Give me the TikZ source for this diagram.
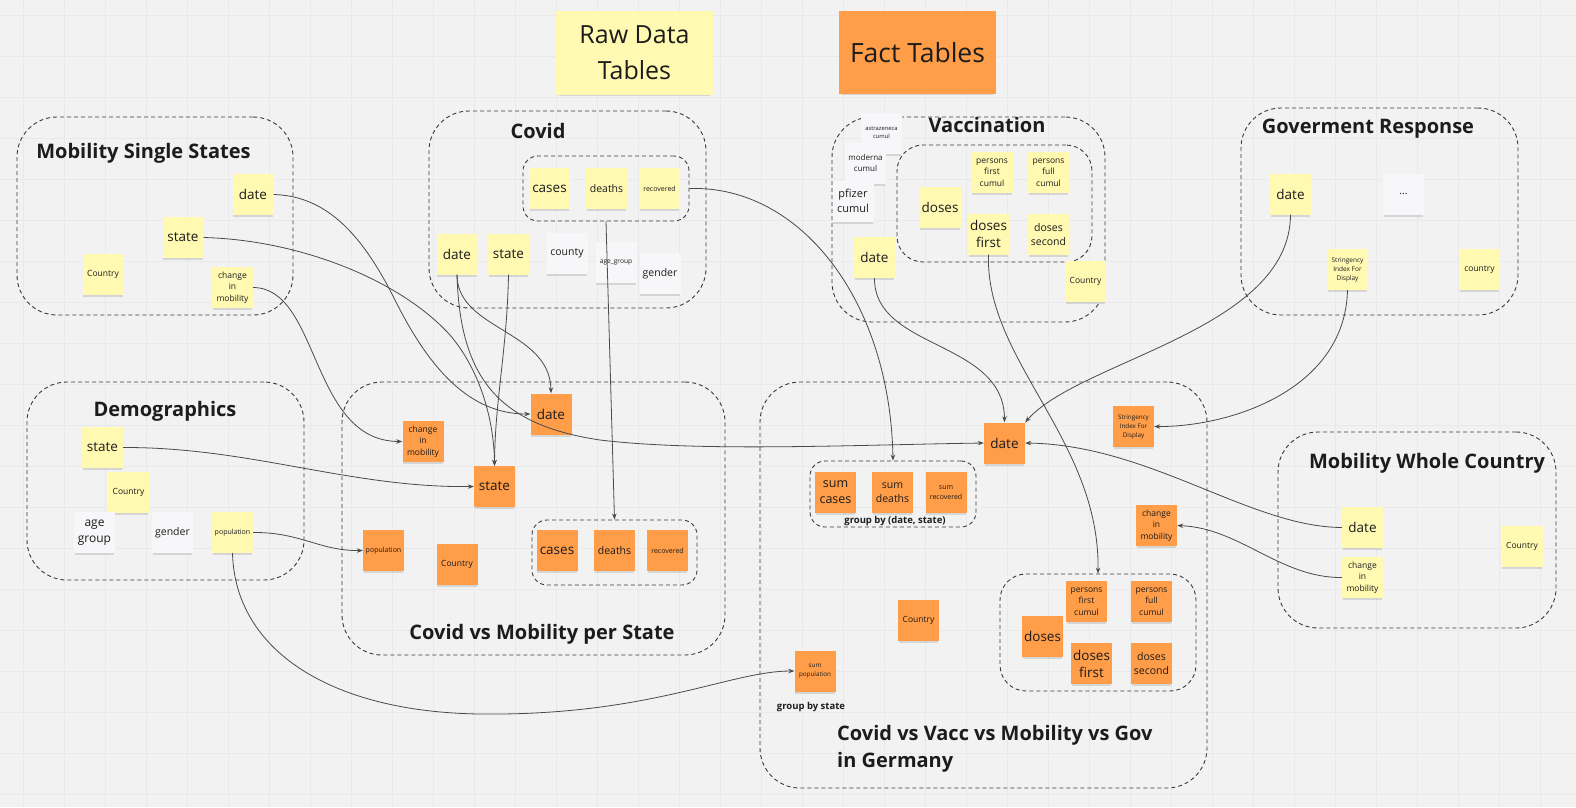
\documentclass[tikz,border=0pt]{standalone}
\usepackage{fontspec}
\setmainfont{Open Sans}
\usetikzlibrary{shadows,arrows.meta}
\definecolor{bgc}{HTML}{F2F2F2}
\definecolor{gridc}{HTML}{E9E9E9}
\definecolor{ylw}{HTML}{FFF9B1}
\definecolor{org}{HTML}{FF9D48}
\definecolor{wht}{HTML}{F7F7F9}
\definecolor{ink}{HTML}{1C1C1C}
\definecolor{linec}{HTML}{4A4A4A}
\definecolor{dashc}{HTML}{3A3A3A}
\tikzset{
  sticky/.style={rectangle, minimum width=41pt, minimum height=41pt, inner sep=1pt, align=center, text=ink,
    drop shadow={shadow xshift=0pt, shadow yshift=-3pt, opacity=0.25, shadow scale=0.96}},
  ys/.style={sticky, fill=ylw},
  os/.style={sticky, fill=org},
  ws/.style={sticky, fill=wht},
  fA/.style={font=\fontsize{13.5}{17}\selectfont},
  fB/.style={font=\fontsize{10.5}{14}\selectfont},
  fC/.style={font=\fontsize{8.5}{11.5}\selectfont},
  fD/.style={font=\fontsize{7}{9.5}\selectfont},
  fE/.style={font=\fontsize{6.3}{9}\selectfont},
  cont/.style={rectangle, draw=dashc, dash pattern=on 4pt off 3pt, line width=0.9pt, rounded corners=40pt, inner sep=0pt},
  grp/.style={rectangle, draw=dashc, dash pattern=on 4pt off 3pt, line width=0.9pt, rounded corners=15pt, inner sep=0pt},
  ttl/.style={font=\fontsize{20}{27.5}\selectfont\bfseries, text=ink, inner sep=0pt},
  lbl/.style={font=\fontsize{9.5}{12}\selectfont\bfseries, text=ink, inner sep=0pt},
  conn/.style={draw=linec, line width=0.8pt, -{Stealth[length=6pt,width=4.5pt]}},
}
\begin{document}
\begin{tikzpicture}[x=1pt,y=-1pt]
\fill[bgc] (0,0) rectangle (1576,807);
\useasboundingbox (0,0) rectangle (1576,807);
\foreach \gx in {23,64,...,1576} \draw[gridc, line width=0.6pt] (\gx,0) -- (\gx,807);
\foreach \gy in {15,56,...,807} \draw[gridc, line width=0.6pt] (0,\gy) -- (1576,\gy);

% headers
\node[ys, minimum width=157pt, minimum height=84pt, font=\fontsize{25}{36}\selectfont] (hRaw) at (634.5,53) {Raw Data\\Tables};
\node[os, minimum width=157pt, minimum height=83pt, font=\fontsize{26.5}{34}\selectfont] (hFact) at (917.5,52.5) {Fact Tables};

% containers
\node[cont, minimum width=276pt, minimum height=198pt] (cMSS) at (155,216) {};
\node[cont, minimum width=277pt, minimum height=197pt] (cCovid) at (567.5,209.5) {};
\node[cont, minimum width=273pt, minimum height=205pt] (cVacc) at (968.5,219.5) {};
\node[cont, minimum width=277pt, minimum height=207pt] (cGov) at (1379.5,211.5) {};
\node[cont, minimum width=277pt, minimum height=198pt] (cDemo) at (165.5,481) {};
\node[cont, minimum width=383pt, minimum height=273pt] (cCvM) at (533.5,518.5) {};
\node[cont, minimum width=447pt, minimum height=406pt] (cFact) at (983.5,585) {};
\node[cont, minimum width=278pt, minimum height=196pt] (cMWC) at (1417,530) {};

\node[grp, minimum width=166pt, minimum height=65pt] (gCovid) at (606,188.5) {};
\node[grp, minimum width=195pt, minimum height=117pt, rounded corners=26pt] (gVacc) at (994.5,203.5) {};
\node[grp, minimum width=165pt, minimum height=65pt] (gCvM) at (614.5,552.5) {};
\node[grp, minimum width=166pt, minimum height=66pt] (gSum) at (893,494) {};
\node[grp, minimum width=196pt, minimum height=117pt, rounded corners=26pt] (gFVacc) at (1098,632.5) {};

% titles
\node[ttl] (tMSS) at (143.5,153) {Mobility Single States};
\node[ttl] (tCovid) at (538,131) {Covid};
\node[ttl] (tVacc) at (987,125) {Vaccination};
\node[ttl] (tGov) at (1368,129) {Goverment Response};
\node[ttl] (tDemo) at (165,411) {Demographics};
\node[ttl] (tCvM) at (542,634) {Covid vs Mobility per State};
\node[ttl, anchor=west, align=left] (tFact) at (837,749) {Covid vs Vacc vs Mobility vs Gov\\in Germany};
\node[ttl] (tMWC) at (1427,463) {Mobility Whole Country};
\node[lbl] (lSum) at (895,521) {group by (date, state)};
\node[lbl] (lPop) at (811,707) {group by state};

% Mobility Single States
\node[ys, fA] (mssDate) at (253,194.5) {date};
\node[ys, fA] (mssState) at (183,237.5) {state};
\node[ys, fC] (mssCountry) at (103,274.5) {Country};
\node[ys, fC] (mssChange) at (232.5,287.5) {change\\in\\mobility};

% Covid
\node[ys, fA] (cvCases) at (549.5,188.5) {cases};
\node[ys, fB] (cvDeaths) at (606.5,188.5) {deaths};
\node[ys, fD] (cvRec) at (659.5,188.5) {recovered};
\node[ys, fA] (cvDate) at (457,254) {date};
\node[ys, fA] (cvState) at (508.5,254) {state};
\node[ws, fB] (cvCounty) at (567,253.5) {county};
\node[ws, font=\fontsize{6.6}{9}\selectfont] (cvAge) at (616,262.5) {age\_group};
\node[ws, fB] (cvGender) at (660,273.5) {gender};

% Vaccination
\node[ws, font=\fontsize{5.8}{8}\selectfont] (vAstra) at (881.5,133) {astrazeneca\\cumul};
\node[ws, font=\fontsize{8}{11}\selectfont] (vModerna) at (865.5,163) {moderna\\cumul};
\node[ws, font=\fontsize{11}{15.5}\selectfont] (vPfizer) at (853,201) {pfizer\\cumul};
\node[ys, fA] (vDoses) at (940,207) {doses};
\node[ys, fC] (vPFirst) at (992,172.5) {persons\\first\\cumul};
\node[ys, fC] (vPFull) at (1048.5,172.5) {persons\\full\\cumul};
\node[ys, fA] (vDFirst) at (988.5,234) {doses\\first};
\node[ys, fB] (vDSecond) at (1048.5,234.5) {doses\\second};
\node[ys, fA] (vDate) at (874.5,257.5) {date};
\node[ys, fC] (vCountry) at (1085.5,281.5) {Country};

% Government response
\node[ys, fA] (gDate) at (1290.5,194) {date};
\node[ws, fB] (gDots) at (1403.5,194) {...};
\node[ys, font=\fontsize{6.5}{9}\selectfont] (gString) at (1347.5,269.5) {Stringency\\Index For\\Display};
\node[ys, fC] (gCountry) at (1479.5,269.5) {country};

% Demographics
\node[ys, fA] (dState) at (102.5,447.5) {state};
\node[ys, fC] (dCountry) at (128.5,492.5) {Country};
\node[ws, font=\fontsize{12}{16}\selectfont] (dAge) at (94.5,532.5) {age\\group};
\node[ws, fB] (dGender) at (172.5,532.5) {gender};
\node[ys, fD] (dPop) at (232.5,532.5) {population};

% Covid vs Mobility per State
\node[os, fC] (mChange) at (423,441.5) {change\\in\\mobility};
\node[os, fA] (mDate) at (551,414) {date};
\node[os, fA] (mState) at (494.5,486.5) {state};
\node[os, fD] (mPop) at (383.5,550.5) {population};
\node[os, fC] (mCountry) at (457,564.5) {Country};
\node[os, fA] (mCases) at (557,550.5) {cases};
\node[os, fB] (mDeaths) at (614.5,550.5) {deaths};
\node[os, fD] (mRec) at (667.5,550.5) {recovered};

% Fact table
\node[os, fA] (fDate) at (1004.5,443) {date};
\node[os, fE] (fString) at (1133.5,426.5) {Stringency\\Index For\\Display};
\node[os, fC] (fChange) at (1156.5,525.5) {change\\in\\mobility};
\node[os, font=\fontsize{12.5}{16}\selectfont] (fSumCases) at (835.5,492.5) {sum\\cases};
\node[os, fB] (fSumDeaths) at (892.5,492.5) {sum\\deaths};
\node[os, fD] (fSumRec) at (946,492.5) {sum\\recovered};
\node[os, fC] (fCountry) at (918.5,620.5) {Country};
\node[os, fE] (fSumPop) at (815,671) {sum\\population};
\node[os, fC] (fPFirst) at (1086.5,601.5) {persons\\first\\cumul};
\node[os, fC] (fPFull) at (1151.5,601.5) {persons\\full\\cumul};
\node[os, fA] (fDoses) at (1042.5,636) {doses};
\node[os, fA] (fDFirst) at (1091.5,663.5) {doses\\first};
\node[os, fB] (fDSecond) at (1151.5,663.5) {doses\\second};

% Mobility Whole Country
\node[ys, fA] (wDate) at (1362.5,527.5) {date};
\node[ys, fC] (wChange) at (1362.5,577.5) {change\\in\\mobility};
\node[ys, fC] (wCountry) at (1522,546.5) {Country};

% connectors
\draw[conn] (mssDate.east) .. controls (330,196) and (365,240) .. (395,300) .. controls (430,370) and (470,414) .. (mDate.west);
\draw[conn] (mssState.east) .. controls (300,240) and (400,280) .. (450,335) .. controls (480,370) and (494,420) .. (mState.north);
\draw[conn] (cvState.south) .. controls (507,350) and (495,400) .. (mState.north);
\draw[conn] (cvDate.south) .. controls (457,330) and (550,330) .. (mDate.north);
\draw[conn] (cvDate.south) .. controls (460,380) and (500,425) .. (600,440) .. controls (700,452) and (850,445) .. (fDate.west);
\draw[conn] (mssChange.east) .. controls (320,288) and (310,441) .. (mChange.west);
\draw[conn] (dState.east) .. controls (250,447) and (350,488) .. (mState.west);
\draw[conn] (dPop.east) .. controls (300,532) and (320,551) .. (mPop.west);
\draw[conn] (dPop.south) .. controls (235,650) and (330,712) .. (480,714) .. controls (650,716) and (730,671) .. (fSumPop.west);
\draw[conn] (gCovid.south) -- (gCvM.north);
\draw[conn] (gCovid.east) .. controls (800,185) and (890,300) .. (gSum.north);
\draw[conn] (vDate.south) .. controls (874,350) and (1004,340) .. (fDate.north);
\draw[conn] (gDate.south) .. controls (1290,330) and (1080,360) .. (fDate.north east);
\draw[conn] (gString.south) .. controls (1345,390) and (1230,427) .. (fString.east);
\draw[conn] (wDate.west) .. controls (1250,527) and (1150,445) .. (fDate.east);
\draw[conn] (wChange.west) .. controls (1280,578) and (1240,528) .. (fChange.east);
\draw[conn] (vDFirst.south) .. controls (985,360) and (1100,440) .. (gFVacc.north);
\end{tikzpicture}
\end{document}
